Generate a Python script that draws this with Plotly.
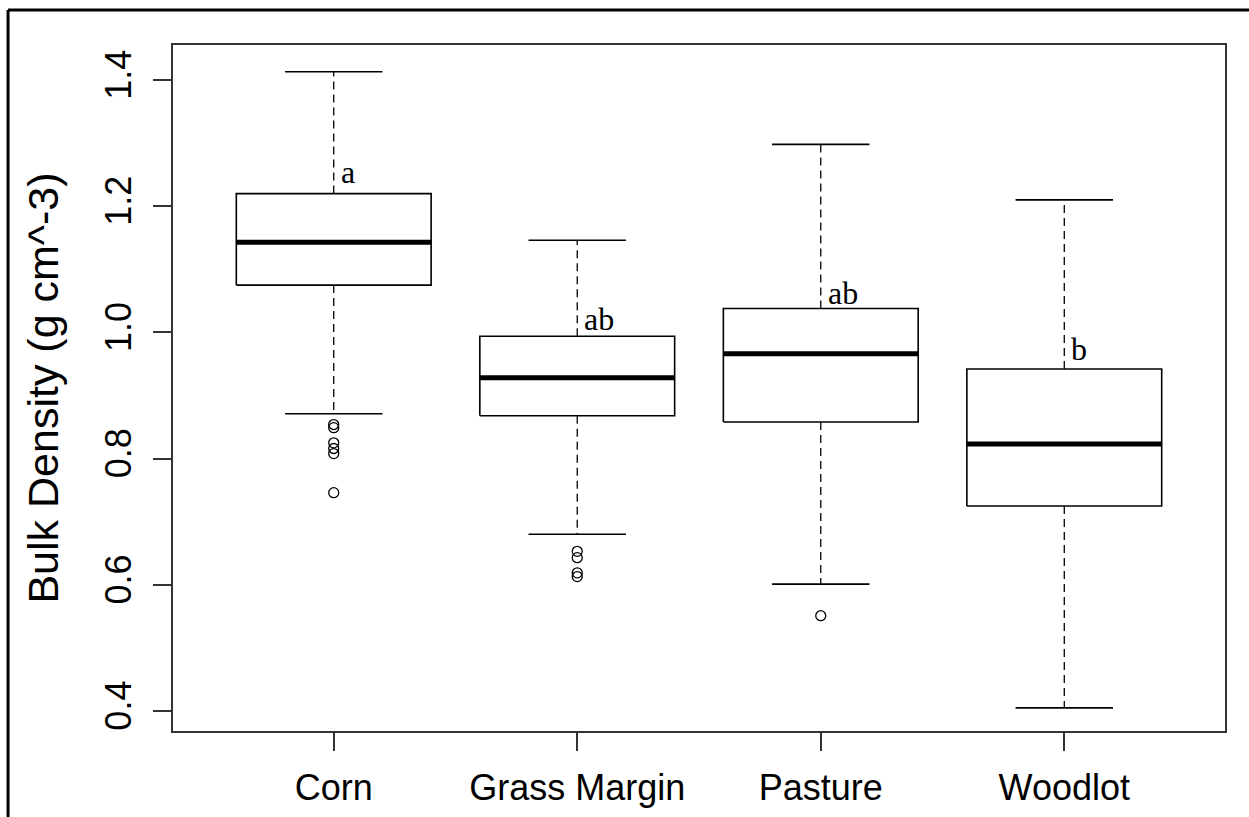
import plotly.graph_objects as go

# Bulk density summary per land use
groups = ["Corn", "Grass Margin", "Pasture", "Woodlot"]
upper_whisker = [1.413, 1.146, 1.298, 1.210]
q3 = [1.220, 0.994, 1.038, 0.942]
median = [1.143, 0.928, 0.966, 0.823]
q1 = [1.075, 0.868, 0.858, 0.725]
lower_whisker = [0.871, 0.680, 0.601, 0.405]

corn_outliers = [0.854, 0.849, 0.825, 0.816, 0.808, 0.746]
grass_outliers = [0.653, 0.643, 0.619, 0.613]
pasture_outliers = [0.551]
woodlot_outliers = []

# significance letters and their heights
group_letters = ["a", "ab", "ab", "b"]
letter_y = [1.255, 1.022, 1.063, 0.973]

y_ticks = [0.4, 0.6, 0.8, 1.0, 1.2, 1.4]

BOX_HALF = 0.4
CAP_HALF = 0.2
positions = list(range(1, len(groups) + 1))

wx, wy = [], []
bx, by = [], []
cx, cy = [], []
mx, my = [], []
for p, lo, a, m, b, hi in zip(positions, lower_whisker, q1, median, q3, upper_whisker):
    wx += [p, p, None, p, p, None]
    wy += [b, hi, None, a, lo, None]
    bx += [p - BOX_HALF, p + BOX_HALF, p + BOX_HALF, p - BOX_HALF, p - BOX_HALF, None]
    by += [a, a, b, b, a, None]
    cx += [p - CAP_HALF, p + CAP_HALF, None, p - CAP_HALF, p + CAP_HALF, None]
    cy += [hi, hi, None, lo, lo, None]
    mx += [p - BOX_HALF, p + BOX_HALF, None]
    my += [m, m, None]

ox, oy = [], []
for p, pts in zip(positions, [corn_outliers, grass_outliers, pasture_outliers, woodlot_outliers]):
    ox += [p] * len(pts)
    oy += pts

fig = go.Figure()
fig.add_trace(go.Scatter(x=wx, y=wy, mode="lines",
                         line=dict(color="black", width=1.3, dash="8px,5px")))
fig.add_trace(go.Scatter(x=bx, y=by, mode="lines",
                         line=dict(color="black", width=1.6)))
fig.add_trace(go.Scatter(x=cx, y=cy, mode="lines",
                         line=dict(color="black", width=1.6)))
fig.add_trace(go.Scatter(x=mx, y=my, mode="lines",
                         line=dict(color="black", width=5)))
fig.add_trace(go.Scatter(x=ox, y=oy, mode="markers",
                         marker=dict(symbol="circle-open", size=10,
                                     color="black", line=dict(width=1.3))))

for p, lab, ly in zip(positions, group_letters, letter_y):
    fig.add_annotation(x=p, y=ly, text=lab, showarrow=False,
                       xanchor="left", yanchor="middle", xshift=5,
                       font=dict(family="Liberation Serif, Times New Roman, serif",
                                 size=32, color="black"))

# outer frame: top and left edges
fig.add_shape(type="line", xref="paper", yref="paper",
              x0=-0.1568, x1=1.03, y0=1.051, y1=1.051,
              line=dict(color="black", width=3))
fig.add_shape(type="line", xref="paper", yref="paper",
              x0=-0.1568, x1=-0.1568, y0=1.051, y1=-0.15,
              line=dict(color="black", width=3))

axis_font = dict(family="Liberation Sans, Arial, sans-serif", size=36, color="black")
fig.update_layout(
    width=1249, height=817,
    margin=dict(l=173, r=24, t=45, b=86),
    paper_bgcolor="white", plot_bgcolor="white",
    showlegend=False,
    xaxis=dict(range=[0.34, 4.66], tickvals=positions, ticktext=groups,
               automargin=False,
               showgrid=False, zeroline=False, showline=True, mirror=True,
               linecolor="#333333", linewidth=1.6,
               ticks="outside", ticklen=18, tickwidth=1.5, tickcolor="#333333",
               tickfont=axis_font, ticklabelstandoff=6),
    yaxis=dict(range=[0.3683, 1.4555], tickvals=y_ticks, tickformat=".1f",
               automargin=False,
               showgrid=False, zeroline=False, showline=True, mirror=True,
               linecolor="#333333", linewidth=1.6,
               ticks="outside", ticklen=18, tickwidth=1.5, tickcolor="#333333",
               tickangle=-90, tickfont=axis_font, ticklabelstandoff=8,
               title=dict(text="Bulk Density (g cm^-3)", standoff=26,
                          font=dict(family="Liberation Sans, Arial, sans-serif",
                                    size=43, color="black"))),
)

fig.write_html("out.html")
